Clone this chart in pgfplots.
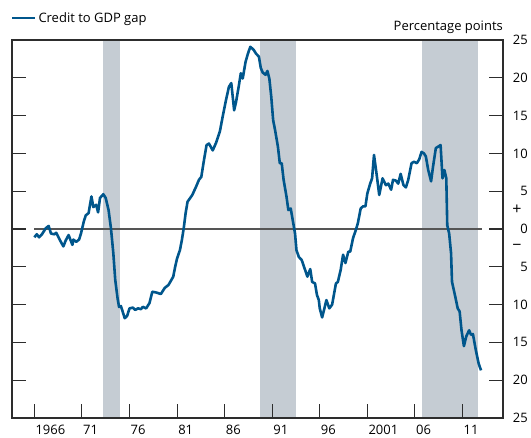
\documentclass[border=0pt]{standalone}
\usepackage{pgfplots}
\pgfplotsset{compat=1.18}
\usepackage{fontspec}
\setmainfont{Open Sans}
\definecolor{bisblue}{RGB}{0,86,140}
\definecolor{shade}{RGB}{197,204,211}
\definecolor{zeroline}{RGB}{85,85,85}
\definecolor{axiscol}{RGB}{45,45,45}
\newcommand{\lblfont}{\fontsize{13}{15}\selectfont}
\pgfplotstableread{
year gap
1966.0 -1.1
1966.25 -0.7
1966.5 -1.1
1966.8 -0.7
1967.2 0.1
1967.5 0.4
1967.75 -0.6
1968.1 -0.7
1968.3 -0.5
1968.7 -1.5
1969.05 -2.3
1969.3 -1.5
1969.6 -0.8
1970.0 -2.1
1970.1 -1.4
1970.4 -1.7
1970.7 -1.4
1970.9 -0.6
1971.2 1.0
1971.4 1.8
1971.7 2.1
1972.0 4.3
1972.2 2.9
1972.5 3.2
1972.7 2.2
1972.9 4.1
1973.25 4.6
1973.5 4.1
1973.8 2.5
1974.05 0.1
1974.3 -3.2
1974.5 -6.7
1974.75 -9.2
1974.9 -10.3
1975.1 -10.2
1975.3 -11.0
1975.5 -11.8
1975.75 -11.5
1976.0 -10.5
1976.35 -10.4
1976.6 -10.7
1976.9 -10.5
1977.2 -10.6
1977.4 -10.3
1977.75 -10.5
1978.1 -9.8
1978.4 -8.3
1978.8 -8.4
1979.3 -8.6
1979.7 -7.8
1980.1 -7.4
1980.6 -6.3
1980.8 -5.0
1981.0 -3.9
1981.3 -2.8
1981.5 -1.5
1981.7 0.1
1981.9 2.1
1982.1 3.6
1982.6 4.5
1983.0 5.6
1983.3 6.5
1983.55 6.9
1983.8 8.9
1984.1 11.1
1984.35 11.3
1984.75 10.4
1985.1 11.4
1985.5 12.9
1985.8 14.9
1986.1 16.8
1986.45 18.8
1986.7 19.3
1987.0 15.7
1987.2 16.8
1987.5 19.0
1987.7 20.6
1987.9 19.9
1988.2 22.1
1988.45 23.2
1988.7 24.1
1989.05 23.7
1989.3 23.2
1989.6 22.8
1989.8 21.3
1990.0 20.7
1990.3 20.4
1990.5 20.9
1990.7 19.9
1990.9 17.5
1991.1 14.4
1991.3 13.1
1991.6 10.9
1991.8 8.7
1992.0 8.7
1992.2 6.5
1992.5 4.3
1992.7 2.5
1992.95 2.7
1993.1 1.6
1993.4 -0.6
1993.55 -2.8
1993.8 -3.7
1994.1 -4.1
1994.4 -5.2
1994.7 -6.3
1995.0 -5.3
1995.2 -7.0
1995.5 -7.2
1995.7 -8.7
1995.9 -9.4
1996.0 -10.5
1996.25 -11.7
1996.7 -9.4
1997.0 -10.5
1997.3 -10.0
1997.7 -7.2
1997.9 -7.0
1998.2 -5.4
1998.45 -3.4
1998.7 -4.5
1999.0 -3.0
1999.2 -3.0
1999.5 -1.2
1999.8 -0.1
2000.0 0.75
2000.3 2.7
2000.55 3.0
2000.8 3.0
2001.0 4.7
2001.3 6.0
2001.5 6.7
2001.7 9.8
2002.0 7.0
2002.25 4.5
2002.6 6.7
2002.95 5.8
2003.2 6.0
2003.5 5.2
2003.7 6.5
2004.0 6.4
2004.25 6.0
2004.5 7.3
2004.8 5.8
2005.05 5.5
2005.3 6.5
2005.65 8.7
2005.9 8.9
2006.2 8.7
2006.45 9.2
2006.7 10.2
2006.95 10.0
2007.15 9.6
2007.4 7.8
2007.7 6.3
2007.9 8.2
2008.2 10.7
2008.45 10.9
2008.7 11.1
2008.9 6.7
2009.1 7.8
2009.3 6.7
2009.4 0.5
2009.6 -0.6
2009.8 -3.2
2009.9 -7.0
2010.2 -8.7
2010.5 -10.5
2010.7 -10.9
2010.9 -13.4
2011.15 -15.5
2011.4 -14.2
2011.7 -13.4
2011.9 -14.0
2012.1 -13.9
2012.4 -16.0
2012.7 -17.8
2012.95 -18.7
}\gaptable
\begin{document}
\begin{tikzpicture}
\begin{axis}[
  scale only axis,
  width=491pt, height=378pt,
  xmin=1963.65, xmax=2015.26,
  ymin=-25, ymax=25,
  axis line style={axiscol, line width=1.1pt},
  every tick/.style={axiscol, line width=1.1pt},
  major tick length=14pt,
  tick align=inside,
  xtick={1966,1971,...,2011},
  xticklabels={1966,71,76,81,86,91,96,2001,06,11},
  xtick pos=left,
  ytick={-25,-20,...,25},
  yticklabels={25,20,15,10,5,0,5,10,15,20,25},
  yticklabel pos=right,
  ytick pos=both,
  /pgf/number format/assume math mode=true,
  xticklabel style={font=\lblfont, anchor=north west, inner sep=0pt, xshift=1pt, yshift=-7pt},
  yticklabel style={font=\lblfont, anchor=east, inner sep=0pt, xshift=25pt},
  axis on top,
  legend style={at={(0,1)}, anchor=west, yshift=22pt, xshift=-1pt, draw=none, fill=none,
    inner sep=0pt, outer sep=0pt, font=\lblfont, nodes={inner sep=2.5pt}},
  legend cell align=left,
  legend image code/.code={\draw[#1, line width=2pt] (0pt,0pt) -- (23pt,0pt);},
]
\addplot[fill=shade, draw=none, forget plot] coordinates {(1973.25,-25) (1973.25,25) (1975.0,25) (1975.0,-25)} -- cycle;
\addplot[fill=shade, draw=none, forget plot] coordinates {(1989.75,-25) (1989.75,25) (1993.5,25) (1993.5,-25)} -- cycle;
\addplot[fill=shade, draw=none, forget plot] coordinates {(2006.75,-25) (2006.75,25) (2012.67,25) (2012.67,-25)} -- cycle;
\addplot[zeroline, line width=1.5pt, forget plot] coordinates {(1966,0) (2013.0,0)};
\addplot[bisblue, line width=2.6pt, line join=round] table[x=year, y=gap] {\gaptable};
\addlegendentry{Credit to GDP gap}
\coordinate (bl) at (rel axis cs:0,0);
\coordinate (tr) at (rel axis cs:1,1);
\coordinate (plus) at (rel axis cs:1,0.55);
\coordinate (minus) at (rel axis cs:1,0.45);
\end{axis}
\node[anchor=base east, font=\lblfont, inner sep=0pt] at ([yshift=9pt]tr) {Percentage points};
\node[font=\fontsize{16}{18}\selectfont, inner sep=0pt] at ([xshift=14pt]plus) {+};
\node[font=\fontsize{16}{18}\selectfont, inner sep=0pt] at ([xshift=14pt]minus) {−};
\pgfresetboundingbox
\path ([shift={(-12pt,-20pt)}]bl) rectangle ([shift={(28pt,40pt)}]tr);
\end{tikzpicture}
\end{document}
